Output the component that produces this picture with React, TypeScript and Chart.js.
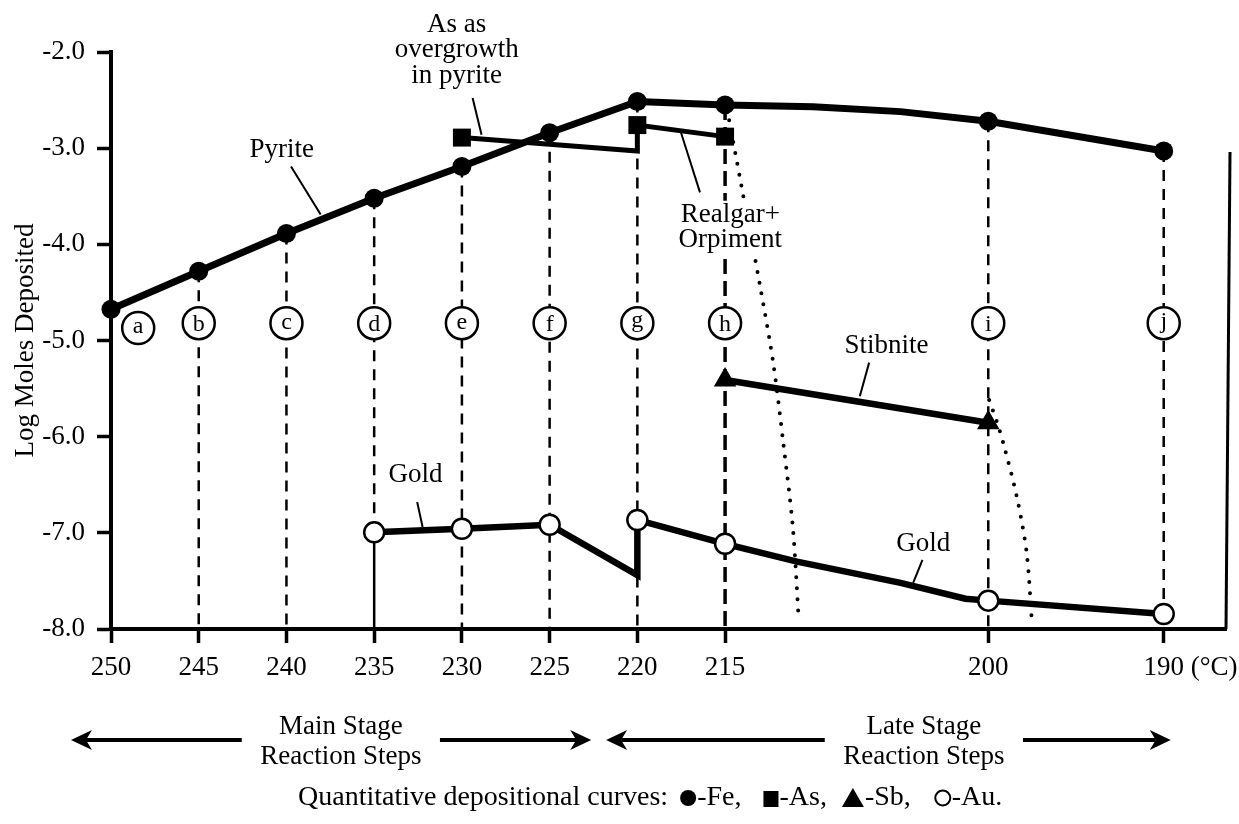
import React, { useEffect, useRef } from "react";
import { Chart, registerables } from "chart.js";

Chart.register(...registerables);

const FONT_FAMILY = '"Liberation Serif", "Times New Roman", Times, serif';

// ---- axes ----
const xTickValues = [250, 245, 240, 235, 230, 225, 220, 215, 200, 190];
const xUnitLabel = " (°C)";
const xMin = 186.45;
const xMax = 250;
const yMin = -8;
const yMax = -2;
const yTitle = "Log Moles Deposited";

// ---- series (temperature °C, log moles) ----
const pyriteTemps = [250, 245, 240, 235, 230, 225, 220, 215, 210, 205, 200, 190];
const pyriteValues = [-4.675, -4.28, -3.887, -3.52, -3.19, -2.84, -2.515, -2.55, -2.57, -2.62, -2.72, -3.03];
const pyriteMarked = [true, true, true, true, true, true, true, true, false, false, true, true];

const arsenicTemps = [230, 220, 220, 215];
const arsenicValues = [-2.89, -3.03, -2.76, -2.88];
const arsenicMarked = [true, false, true, true];

const stibniteTemps = [215, 200];
const stibniteValues = [-5.41, -5.855];

const goldTemps = [235, 230, 225, 220, 220, 215, 210.9, 205, 201.3, 200, 190];
const goldValues = [-6.995, -6.958, -6.916, -7.44, -6.866, -7.114, -7.3, -7.52, -7.685, -7.705, -7.844];
const goldMarked = [true, true, true, false, true, true, false, false, false, true, true];

const realgarTemps = [214.88, 214.05, 213.0, 212.25, 211.68, 211.14, 210.8];
const realgarValues = [-2.6, -3.41, -4.44, -5.24, -6.07, -6.94, -7.91];

const stibniteFallTemps = [199.95, 199.5, 199.14, 198.38, 197.81, 197.52];
const stibniteFallValues = [-5.62, -5.85, -6.07, -6.62, -7.21, -7.91];

// ---- reaction-step drop lines and letters ----
const dropTemps = [245, 240, 235, 230, 225, 220, 215, 200, 190];
const dropEndsOnGold = [false, false, true, false, false, false, false, false, true];
const boldDropTemp = 215;

const stepLetters = ["a", "b", "c", "d", "e", "f", "g", "h", "i", "j"];
const stepTemps = [248.45, 245, 240, 235, 230, 225, 220, 215, 200, 190];
const stepLevels = [-4.87, -4.82, -4.82, -4.82, -4.82, -4.82, -4.82, -4.82, -4.82, -4.82];

// ---- annotations ----
const noteLines = [["As as", "overgrowth", "in pyrite"], ["Pyrite"], ["Realgar+", "Orpiment"], ["Stibnite"], ["Gold"], ["Gold"]];
const noteTemps = [230.3, 240.27, 214.7, 205.8, 232.64, 203.71];
const noteLevels = [-1.981, -3.016, -3.822, -5.06, -6.395, -7.12];
const leaderStartTemps = [229.39, 239.74, 216.43, 206.79, 232.55, 203.75];
const leaderStartLevels = [-2.478, -3.19, -3.46, -5.23, -6.68, -7.28];
const leaderEndTemps = [228.88, 238.05, 217.51, 207.32, 232.24, 204.28];
const leaderEndLevels = [-2.86, -3.69, -2.84, -5.58, -6.94, -7.52];

const stageTitles = [["Main Stage", "Reaction Steps"], ["Late Stage", "Reaction Steps"]];
const stageCenterTemps = [236.9, 203.67];
const stageStartTemps = [252.28, 221.78];
const stageEndTemps = [222.63, 189.6];

const legendLead = "Quantitative depositional curves:";
const legendSymbols = ["dot", "square", "triangle", "ring"];
const legendNames = ["-Fe,", "-As,", "-Sb,", "-Au."];
const legendGaps = [22, 15, 24, 0];

const frameTopLevel = -3.04;

const pts = (xs: number[], ys: number[]) => xs.map((t, i) => ({ x: t, y: ys[i] }));

function drawArrow(ctx: CanvasRenderingContext2D, tail: number, tip: number, y: number) {
  const dir = Math.sign(tip - tail);
  const headLen = 21;
  const headHalf = 10;
  const notch = 6;
  ctx.beginPath();
  ctx.moveTo(tail, y);
  ctx.lineTo(tip - dir * (headLen - notch), y);
  ctx.lineWidth = 4;
  ctx.stroke();
  ctx.beginPath();
  ctx.moveTo(tip, y);
  ctx.lineTo(tip - dir * headLen, y - headHalf);
  ctx.lineTo(tip - dir * (headLen - notch), y);
  ctx.lineTo(tip - dir * headLen, y + headHalf);
  ctx.closePath();
  ctx.fill();
}

const overlayPlugin = {
  id: "overlay",
  afterDatasetsDraw(chart: any) {
    const { ctx, chartArea } = chart;
    const xs = chart.scales.x;
    const ys = chart.scales.y;
    const px = (t: number) => xs.getPixelForValue(t);
    const py = (v: number) => ys.getPixelForValue(v);
    ctx.save();
    ctx.strokeStyle = "#000";
    ctx.fillStyle = "#000";

    // right frame line
    ctx.beginPath();
    ctx.lineWidth = 3;
    ctx.moveTo(chartArea.right + 4, py(frameTopLevel));
    ctx.lineTo(chartArea.right, chartArea.bottom);
    ctx.stroke();

    // circled step letters
    ctx.font = `24px ${FONT_FAMILY}`;
    ctx.textAlign = "center";
    ctx.textBaseline = "alphabetic";
    stepLetters.forEach((l, i) => {
      const cx = px(stepTemps[i]);
      const cy = py(stepLevels[i]);
      ctx.beginPath();
      ctx.arc(cx, cy, 16, 0, Math.PI * 2);
      ctx.fillStyle = "#fff";
      ctx.fill();
      ctx.lineWidth = 2.5;
      ctx.stroke();
      ctx.fillStyle = "#000";
      const m = ctx.measureText(l);
      ctx.fillText(l, cx, cy + (m.actualBoundingBoxAscent - m.actualBoundingBoxDescent) / 2);
    });

    // annotations
    const lh = 25.5;
    ctx.font = `27px ${FONT_FAMILY}`;
    ctx.textBaseline = "middle";
    noteLines.forEach((lines, i) => {
      const cx = px(noteTemps[i]);
      const cy = py(noteLevels[i]);
      const w = Math.max(...lines.map((s) => ctx.measureText(s).width));
      const h = lines.length * lh;
      ctx.fillStyle = "#fff";
      ctx.fillRect(cx - w / 2 - 2, cy - h / 2 - 1, w + 4, h + 2);
      ctx.fillStyle = "#000";
      lines.forEach((s, k) => {
        ctx.fillText(s, cx, cy - h / 2 + lh / 2 + k * lh);
      });
      ctx.beginPath();
      ctx.lineWidth = 2;
      ctx.moveTo(px(leaderStartTemps[i]), py(leaderStartLevels[i]));
      ctx.lineTo(px(leaderEndTemps[i]), py(leaderEndLevels[i]));
      ctx.stroke();
    });

    // x tick labels
    const labelY = chartArea.bottom + 39;
    xTickValues.forEach((v) => {
      ctx.textAlign = "center";
      const s = String(v);
      ctx.fillText(s, px(v), labelY);
      if (v === xTickValues[xTickValues.length - 1]) {
        ctx.textAlign = "left";
        ctx.fillText(xUnitLabel, px(v) + ctx.measureText(s).width / 2, labelY);
      }
    });

    // stage arrows
    const arrowY = chartArea.bottom + 111;
    stageTitles.forEach((lines, i) => {
      const cx = px(stageCenterTemps[i]);
      ctx.textAlign = "center";
      ctx.fillText(lines[0], cx, chartArea.bottom + 98);
      ctx.fillText(lines[1], cx, chartArea.bottom + 128);
      const w = Math.max(...lines.map((s) => ctx.measureText(s).width));
      const half = w / 2 + 18.5;
      drawArrow(ctx, cx - half, px(stageStartTemps[i]), arrowY);
      drawArrow(ctx, cx + half, px(stageEndTemps[i]), arrowY);
    });

    // bottom legend
    ctx.font = `28px ${FONT_FAMILY}`;
    const ly = chartArea.bottom + 169;
    let lx = 298;
    ctx.textAlign = "left";
    ctx.fillText(legendLead, lx, ly);
    lx += ctx.measureText(legendLead).width + 12;
    legendSymbols.forEach((sym, i) => {
      ctx.lineWidth = 2;
      if (sym === "dot") {
        ctx.beginPath();
        ctx.arc(lx + 8, ly, 8, 0, Math.PI * 2);
        ctx.fill();
        lx += 17;
      } else if (sym === "square") {
        ctx.fillRect(lx, ly - 7, 15, 16);
        lx += 16;
      } else if (sym === "triangle") {
        ctx.beginPath();
        ctx.moveTo(lx + 11, ly - 10);
        ctx.lineTo(lx + 22, ly + 9);
        ctx.lineTo(lx, ly + 9);
        ctx.closePath();
        ctx.fill();
        lx += 23;
      } else {
        ctx.beginPath();
        ctx.arc(lx + 8, ly, 7.5, 0, Math.PI * 2);
        ctx.stroke();
        lx += 17;
      }
      ctx.fillText(legendNames[i], lx, ly);
      lx += ctx.measureText(legendNames[i]).width + legendGaps[i];
    });

    ctx.restore();
  },
};

export default function App() {
  const canvasRef = useRef<HTMLCanvasElement | null>(null);

  useEffect(() => {
    document.body.style.margin = "0";
    const canvas = canvasRef.current;
    if (!canvas) return;

    const dropSets = dropTemps.map((t, i) => {
      const top = pyriteValues[pyriteTemps.indexOf(t)];
      const bottom = dropEndsOnGold[i] ? goldValues[goldTemps.lastIndexOf(t)] : yMin;
      const bold = t === boldDropTemp;
      return {
        data: [{ x: t, y: top }, { x: t, y: bottom }],
        borderColor: "#000",
        borderWidth: bold ? 3.5 : 2.5,
        borderDash: bold ? [15, 7] : [11, 8],
        pointRadius: 0,
        order: 5,
        clip: false,
      };
    });

    const chart = new Chart(canvas, {
      type: "line",
      data: {
        datasets: [
          {
            data: pts(pyriteTemps, pyriteValues),
            borderColor: "#000",
            backgroundColor: "#000",
            borderWidth: 7,
            borderJoinStyle: "round",
            pointStyle: "circle",
            pointRadius: pyriteMarked.map((m) => (m ? 9.5 : 0)),
            pointBorderWidth: 0,
            pointBackgroundColor: "#000",
            order: 0,
            clip: false,
          },
          {
            data: pts(arsenicTemps, arsenicValues),
            borderColor: "#000",
            borderWidth: 5,
            borderJoinStyle: "miter",
            pointStyle: "rect",
            pointRadius: arsenicMarked.map((m) => (m ? 12.7 : 0)),
            pointBorderWidth: 0,
            pointBackgroundColor: "#000",
            order: 1,
            clip: false,
          },
          {
            data: pts(stibniteTemps, stibniteValues),
            borderColor: "#000",
            borderWidth: 6.5,
            pointStyle: "triangle",
            pointRadius: 13,
            pointBorderWidth: 0,
            pointBackgroundColor: "#000",
            order: 0,
            clip: false,
          },
          {
            data: pts(goldTemps, goldValues),
            borderColor: "#000",
            borderWidth: 6.5,
            borderJoinStyle: "miter",
            pointStyle: "circle",
            pointRadius: goldMarked.map((m) => (m ? 10 : 0)),
            pointBorderWidth: 2.5,
            pointBorderColor: "#000",
            pointBackgroundColor: "#fff",
            order: 0,
            clip: false,
          },
          {
            data: [{ x: goldTemps[0], y: goldValues[0] }, { x: goldTemps[0], y: yMin }],
            borderColor: "#000",
            borderWidth: 2.5,
            pointRadius: 0,
            order: 4,
            clip: false,
          },
          {
            data: pts(realgarTemps, realgarValues),
            borderColor: "#000",
            borderWidth: 4,
            borderDash: [0, 11],
            borderCapStyle: "round",
            tension: 0.3,
            pointRadius: 0,
            order: 3,
            clip: false,
          },
          {
            data: pts(stibniteFallTemps, stibniteFallValues),
            borderColor: "#000",
            borderWidth: 4,
            borderDash: [0, 11],
            borderCapStyle: "round",
            tension: 0.3,
            pointRadius: 0,
            order: 3,
            clip: false,
          },
          ...dropSets,
        ],
      } as any,
      options: {
        responsive: false,
        animation: false,
        events: [],
        layout: { padding: { left: 0, top: 52, right: 13, bottom: 0 } },
        plugins: {
          legend: { display: false },
          tooltip: { enabled: false },
          title: { display: false },
        },
        scales: {
          x: {
            type: "linear",
            reverse: true,
            min: xMin,
            max: xMax,
            afterBuildTicks: (s: any) => {
              s.ticks = xTickValues.map((v) => ({ value: v }));
            },
            afterFit: (s: any) => {
              s.height = 195;
            },
            ticks: { display: false },
            grid: {
              display: true,
              drawOnChartArea: false,
              drawTicks: true,
              tickLength: 14,
              tickWidth: 3.5,
              tickColor: "#000",
              color: "#000",
            },
            border: { display: true, color: "#000", width: 4 },
          },
          y: {
            type: "linear",
            min: yMin,
            max: yMax,
            afterFit: (s: any) => {
              s.width = 111;
            },
            ticks: {
              stepSize: 1,
              color: "#000",
              padding: 12,
              font: { family: FONT_FAMILY, size: 27 },
              callback: (v: any) => Number(v).toFixed(1),
            },
            grid: {
              display: true,
              drawOnChartArea: false,
              drawTicks: true,
              tickLength: 14,
              tickWidth: 3.5,
              tickColor: "#000",
              color: "#000",
            },
            border: { display: true, color: "#000", width: 4 },
            title: {
              display: true,
              text: yTitle,
              color: "#000",
              font: { family: FONT_FAMILY, size: 27 },
              padding: { top: 10, bottom: 0 },
            },
          },
        },
      } as any,
      plugins: [overlayPlugin],
    });

    return () => chart.destroy();
  }, []);

  return (
    <canvas
      ref={canvasRef}
      width={1239}
      height={824}
      style={{ display: "block", width: "1239px", height: "824px" }}
    />
  );
}
